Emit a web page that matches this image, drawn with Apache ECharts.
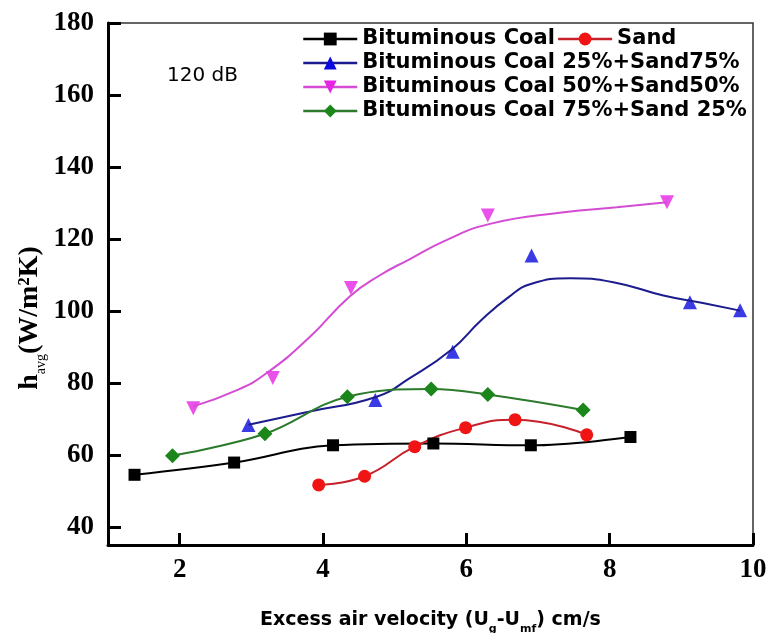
<!DOCTYPE html>
<html>
<head>
<meta charset="utf-8">
<script src="https://cdn.jsdelivr.net/npm/echarts@6/dist/echarts.min.js"></script>
<style>
  html, body { margin: 0; padding: 0; background: #fff; }
  #chart { width: 766px; height: 633px; }
</style>
</head>
<body>
<div id="chart"></div>
<script>
// values: x = excess air velocity (cm/s), y = h_avg (W/m2K)
var coalX = [1.37, 2.76, 4.14, 5.54, 6.90, 8.29];
var coalY = [54.5, 57.9, 62.7, 63.2, 62.7, 65.0];

var sandX = [3.94, 4.58, 5.28, 5.99, 6.68, 7.68];
var sandY = [51.7, 54.1, 62.3, 67.6, 69.8, 65.6];

var c25X = [2.96, 4.73, 5.81, 6.91, 9.12, 9.82];
var c25Y = [68.3, 75.3, 88.7, 115.4, 102.4, 100.2];
// fitted curve drawn in the figure
var c25CurveX = [2.96, 3.8, 4.75, 5.2, 5.8, 6.2, 6.6, 6.9, 7.45, 8.05, 8.75, 9.3, 9.82];
var c25CurveY = [68.4, 72.0, 76.2, 81.2, 89.4, 97.3, 104.0, 107.5, 109.1, 108.0, 104.3, 102.2, 100.1];

var c50X = [2.19, 3.30, 4.39, 6.30, 8.80];
var c50Y = [73.0, 81.4, 106.4, 126.5, 130.2];
var c50CurveX = [2.19, 2.8, 3.21, 3.8, 4.38, 4.8, 5.2, 5.7, 6.33, 7.36, 8.1, 8.8];
var c50CurveY = [73.5, 78.0, 82.7, 92.5, 104.2, 110.0, 114.3, 119.5, 124.2, 127.4, 128.8, 130.2];

var c75X = [1.90, 3.19, 4.34, 5.51, 6.30, 7.63];
var c75Y = [59.8, 65.9, 76.2, 78.3, 76.8, 72.5];

var names = [
  'Bituminous Coal',
  'Sand',
  'Bituminous Coal 25%+Sand75%',
  'Bituminous Coal 50%+Sand50%',
  'Bituminous Coal 75%+Sand 25%'
];
var xTicks = [2, 4, 6, 8, 10];
var yTicks = [40, 60, 80, 100, 120, 140, 160, 180];

function zip(xs, ys) {
  return xs.map(function (x, i) { return [x, ys[i]]; });
}

var tickFont = { fontFamily: 'Liberation Serif', fontWeight: 'bold', fontSize: 27, color: '#000' };

var chart = echarts.init(document.getElementById('chart'), null, { renderer: 'canvas' });

chart.setOption({
  animation: false,
  backgroundColor: '#fff',
  grid: {
    left: 108, right: 13, top: 23, bottom: 88,
    containLabel: false,
    outerBoundsMode: 'none',
    show: true, borderColor: '#333', borderWidth: 1.5
  },
  legend: {
    data: names,
    left: 297, top: 23, width: 455,
    orient: 'horizontal',
    itemWidth: 54, itemHeight: 16, itemGap: 2,
    lineStyle: { width: 2.5 },
    textStyle: { fontFamily: 'DejaVu Sans', fontWeight: 'bold', fontSize: 21, color: '#000', lineHeight: 22 }
  },
  xAxis: {
    type: 'value', min: 1, max: 10,
    name: '{a|Excess air velocity (U}{s|g}{a|-U}{s|mf}{a|) cm/s}',
    nameLocation: 'middle', nameGap: 60,
    nameTextStyle: {
      rich: {
        a: { fontFamily: 'DejaVu Sans', fontWeight: 'bold', fontSize: 19, color: '#000', lineHeight: 30 },
        s: { fontFamily: 'DejaVu Sans', fontWeight: 'bold', fontSize: 11, color: '#000', lineHeight: 12, verticalAlign: 'bottom' }
      }
    },
    axisLine: { lineStyle: { color: '#000', width: 3 } },
    axisTick: { inside: true, length: 12, customValues: xTicks, lineStyle: { color: '#000', width: 3 } },
    axisLabel: Object.assign({ customValues: xTicks, margin: 12 }, tickFont),
    splitLine: { show: false }
  },
  yAxis: {
    type: 'value', min: 35, max: 180,
    axisLine: { lineStyle: { color: '#000', width: 3 } },
    axisTick: { inside: true, length: 13, customValues: yTicks, lineStyle: { color: '#000', width: 3 } },
    axisLabel: Object.assign({ customValues: yTicks, margin: 14 }, tickFont),
    splitLine: { show: false }
  },
  graphic: [
    {
      type: 'text', x: 30, y: 318, rotation: Math.PI / 2,
      style: {
        text: '{a|h}{s|avg}{a|(W/m²K)}',
        align: 'center', verticalAlign: 'middle',
        rich: {
          a: { fontFamily: 'Liberation Serif', fontWeight: 'bold', fontSize: 28, fill: '#000', lineHeight: 36 },
          s: { fontFamily: 'Liberation Serif', fontSize: 14, fill: '#000', lineHeight: 14, verticalAlign: 'bottom' }
        }
      }
    },
    {
      type: 'text', x: 167, y: 76,
      style: { text: '120 dB', fontFamily: 'DejaVu Sans', fontSize: 20, fill: '#000', verticalAlign: 'middle' }
    }
  ],
  series: [
    {
      name: names[0], type: 'line', data: zip(coalX, coalY), smooth: 0.4,
      symbol: 'rect', symbolSize: 12,
      itemStyle: { color: '#000' }, lineStyle: { color: '#000', width: 2 }
    },
    {
      name: names[1], type: 'line', data: zip(sandX, sandY), smooth: 0.5,
      symbol: 'circle', symbolSize: 13,
      itemStyle: { color: '#f01414' }, lineStyle: { color: '#c8202a', width: 2 }
    },
    {
      name: names[2], type: 'line', data: zip(c25CurveX, c25CurveY), smooth: 0.5,
      symbol: 'triangle', symbolSize: 13, showSymbol: false,
      itemStyle: { color: '#0a0ae0' }, lineStyle: { color: '#1c1c8e', width: 2 }
    },
    {
      name: names[2], type: 'scatter', data: zip(c25X, c25Y),
      symbol: 'triangle', symbolSize: 14,
      itemStyle: { color: '#0a0ae0' }
    },
    {
      name: names[3], type: 'line', data: zip(c50CurveX, c50CurveY), smooth: 0.5,
      symbol: 'triangle', symbolRotate: 180, symbolSize: 13, showSymbol: false,
      itemStyle: { color: '#e524e5' }, lineStyle: { color: '#d44cd4', width: 2 }
    },
    {
      name: names[3], type: 'scatter', data: zip(c50X, c50Y),
      symbol: 'triangle', symbolRotate: 180, symbolSize: 14,
      itemStyle: { color: '#e524e5' }
    },
    {
      name: names[4], type: 'line', data: zip(c75X, c75Y), smooth: 0.4,
      symbol: 'diamond', symbolSize: 15,
      itemStyle: { color: '#1b871b' }, lineStyle: { color: '#2c7a2c', width: 2 }
    }
  ]
});
</script>
</body>
</html>
